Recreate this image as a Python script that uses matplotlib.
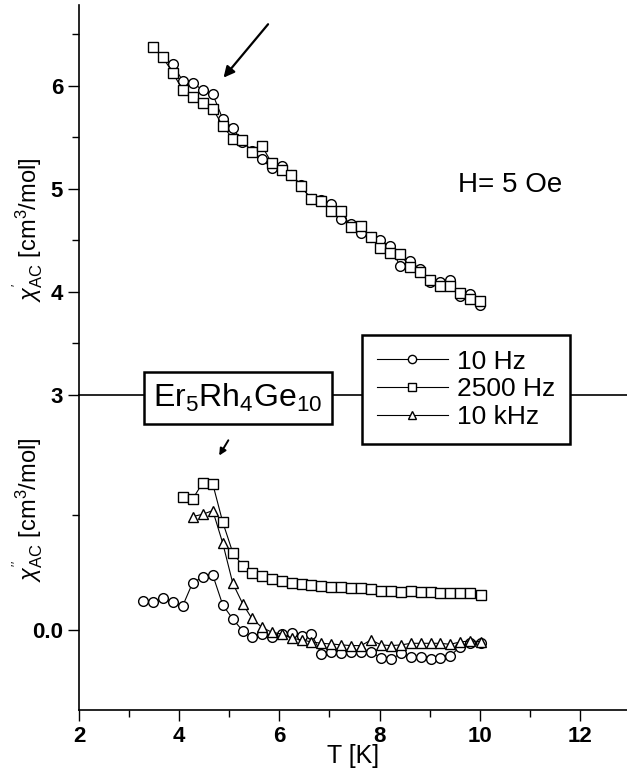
import numpy as np
import matplotlib
matplotlib.use('Agg')
import matplotlib.pyplot as plt
from matplotlib.ticker import MultipleLocator, FixedLocator

plt.rcParams['font.family'] = ['Liberation Sans', 'DejaVu Sans']
plt.rcParams['mathtext.fontset'] = 'custom'
plt.rcParams['mathtext.rm'] = 'Liberation Sans'
plt.rcParams['mathtext.it'] = 'Liberation Sans:italic'

# chi' (top panel)
T_top_sq = [3.47, 3.67, 3.87, 4.07, 4.27, 4.47, 4.67, 4.87, 5.07, 5.26, 5.45, 5.65,
            5.85, 6.05, 6.24, 6.43, 6.63, 6.83, 7.03, 7.23, 7.43, 7.63, 7.82, 8.01,
            8.21, 8.41, 8.61, 8.81, 9.01, 9.21, 9.41, 9.61, 9.80, 10.01]
chi1_2500 = [6.38, 6.28, 6.13, 5.96, 5.89, 5.83, 5.78, 5.61, 5.49, 5.48, 5.36, 5.42,
             5.25, 5.18, 5.14, 5.03, 4.90, 4.88, 4.79, 4.79, 4.63, 4.64, 4.53, 4.43,
             4.38, 4.37, 4.24, 4.19, 4.12, 4.06, 4.06, 3.99, 3.93, 3.91]
T_top_ci = [3.87, 4.07, 4.27, 4.47, 4.67, 4.87, 5.07, 5.26, 5.45, 5.65, 5.85, 6.05,
            6.24, 6.43, 6.63, 6.83, 7.03, 7.23, 7.43, 7.63, 7.82, 8.01, 8.21, 8.41,
            8.61, 8.81, 9.01, 9.21, 9.41, 9.61, 9.80, 10.01]
chi1_10 = [6.21, 6.05, 6.03, 5.96, 5.92, 5.68, 5.59, 5.46, 5.37, 5.29, 5.20, 5.22,
           5.14, 5.04, 4.90, 4.89, 4.85, 4.71, 4.66, 4.57, 4.53, 4.50, 4.45, 4.25,
           4.30, 4.22, 4.10, 4.10, 4.12, 3.96, 3.98, 3.87]

# chi'' (bottom panel)
T_bot_ci = [3.27, 3.47, 3.67, 3.87, 4.07, 4.27, 4.47, 4.67, 4.87, 5.07, 5.27, 5.45,
            5.65, 5.85, 6.05, 6.25, 6.45, 6.64, 6.84, 7.04, 7.24, 7.44, 7.63, 7.83,
            8.03, 8.23, 8.43, 8.63, 8.83, 9.03, 9.21, 9.41, 9.60, 9.80, 10.02]
chi2_10 = [0.0252, 0.0241, 0.0275, 0.0241, 0.0209, 0.0412, 0.0458, 0.0478, 0.0217,
           0.0096, -0.0009, -0.0064, -0.0035, -0.0058, -0.0035, -0.0029, -0.0050,
           -0.0035, -0.0211, -0.0188, -0.0203, -0.0194, -0.0194, -0.0188, -0.0246,
           -0.0255, -0.0203, -0.0235, -0.0235, -0.0255, -0.0246, -0.0226, -0.0150,
           -0.0116, -0.0110]
T_bot_sq = [4.07, 4.27, 4.47, 4.67, 4.87, 5.07, 5.27, 5.45, 5.65, 5.85, 6.05, 6.25,
            6.45, 6.64, 6.84, 7.04, 7.24, 7.44, 7.63, 7.83, 8.03, 8.23, 8.43, 8.63,
            8.83, 9.03, 9.21, 9.41, 9.60, 9.80, 10.02]
chi2_2500 = [0.1154, 0.1139, 0.1281, 0.1270, 0.0937, 0.0672, 0.0557, 0.0493, 0.0470,
             0.0443, 0.0426, 0.0411, 0.0397, 0.0389, 0.0383, 0.0377, 0.0371, 0.0363,
             0.0363, 0.0357, 0.0339, 0.0339, 0.0333, 0.0339, 0.0333, 0.0333, 0.0324,
             0.0324, 0.0324, 0.0320, 0.0304]
T_bot_tr = [4.27, 4.47, 4.67, 4.87, 5.07, 5.27, 5.45, 5.65, 5.85, 6.05, 6.25, 6.45,
            6.64, 6.84, 7.04, 7.24, 7.44, 7.63, 7.83, 8.03, 8.23, 8.43, 8.63, 8.83,
            9.03, 9.21, 9.41, 9.60, 9.80, 10.02]
chi2_10k = [0.0986, 0.1006, 0.1038, 0.0754, 0.0406, 0.0226, 0.0101, 0.0023, -0.0020,
            -0.0035, -0.0072, -0.0087, -0.0104, -0.0116, -0.0122, -0.0130, -0.0136,
            -0.0136, -0.0087, -0.0130, -0.0136, -0.0130, -0.0116, -0.0116, -0.0116,
            -0.0116, -0.0125, -0.0105, -0.0096, -0.0101]

W, H = 627, 776
fig = plt.figure(figsize=(W / 100, H / 100), dpi=100)

left = 79 / W
ax1 = fig.add_axes([left, 1 - 395 / H, 1 - left, 390 / H])
ax2 = fig.add_axes([left, 1 - 710 / H, 1 - left, 315 / H], sharex=ax1)

st = dict(color='k', lw=0.8, mfc='white', mec='k', mew=1.0, ms=7)
ax1.plot(T_top_ci, chi1_10, marker='o', **st)
ax1.plot(T_top_sq, chi1_2500, marker='s', **st)

l1, = ax2.plot(T_bot_ci, chi2_10, marker='o', **st)
l2, = ax2.plot(T_bot_sq, chi2_2500, marker='s', **st)
l3, = ax2.plot(T_bot_tr, chi2_10k, marker='^', **st)

ax1.set_xlim(2, 12.94)
ax1.set_ylim(3, 6.786)
ax2.set_ylim(-0.0696, 0.2043)

for ax in (ax1, ax2):
    for s in ('top', 'right'):
        ax.spines[s].set_visible(False)
    ax.spines['left'].set_linewidth(1.2)
    ax.spines['bottom'].set_linewidth(1.2)
    ax.tick_params(which='major', direction='out', length=8, width=1.0)
    ax.tick_params(which='minor', direction='out', length=5, width=1.0)
    ax.set_facecolor('none')

ax1.yaxis.set_major_locator(MultipleLocator(1))
ax1.yaxis.set_minor_locator(MultipleLocator(0.5))
ax1.tick_params(axis='x', which='both', bottom=False, labelbottom=False)
ax2.yaxis.set_major_locator(FixedLocator([0.0]))
ax2.yaxis.set_minor_locator(FixedLocator([0.1]))
ax2.set_yticklabels(['0.0'])
ax2.xaxis.set_major_locator(MultipleLocator(2))
ax2.xaxis.set_minor_locator(MultipleLocator(1))

for ax in (ax1, ax2):
    for lab in ax.get_yticklabels() + ax.get_xticklabels():
        lab.set_fontsize(16)
        lab.set_fontweight('bold')

ax2.set_xlabel('T [K]', fontsize=18, labelpad=-2)

fig.text(28 / W, 1 - 230 / H, r"$\chi^{'}_{\mathrm{AC}}$ [cm$^3$/mol]", rotation=90,
         ha='center', va='center', fontsize=17)
fig.text(28 / W, 1 - 510 / H, r"$\chi^{''}_{\mathrm{AC}}$ [cm$^3$/mol]", rotation=90,
         ha='center', va='center', fontsize=17)

fig.text(458 / W, 1 - 185 / H, 'H= 5 Oe', ha='left', va='center', fontsize=20)

fig.text(238 / W, 1 - 398 / H, r'Er$_5$Rh$_4$Ge$_{10}$', ha='center', va='center',
         fontsize=23,
         bbox=dict(boxstyle='square,pad=0.3', fc='white', ec='k', lw=1.8))

ax1.annotate('', xy=(4.85, 6.06), xytext=(5.81, 6.62),
             arrowprops=dict(arrowstyle='-|>', color='k', lw=1.6, mutation_scale=16))
ax2.annotate('', xy=(4.77, 0.1496), xytext=(5.01, 0.167),
             arrowprops=dict(arrowstyle='-|>', color='k', lw=1.4, mutation_scale=10))

leg = fig.legend([l1, l2, l3], ['10 Hz', '2500 Hz', '10 kHz'], loc='upper left',
                 bbox_to_anchor=(362 / W, 1 - 335 / H), fontsize=19,
                 handlelength=2.7, handletextpad=0.35, borderpad=0.55,
                 labelspacing=0.15, fancybox=False, borderaxespad=0, framealpha=1,
                 markerscale=0.85)
leg.get_frame().set_edgecolor('k')
leg.get_frame().set_linewidth(1.8)

fig.savefig('out.png', dpi=100)
